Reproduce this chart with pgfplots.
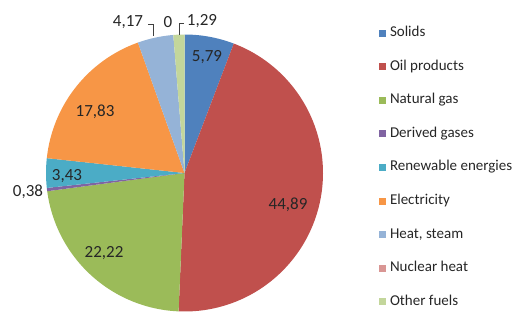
\documentclass[border=0pt]{standalone}
\usepackage{fontspec}
\setmainfont{Carlito}
\usepackage{pgfplots}
\pgfplotsset{compat=1.18}
\definecolor{cSolids}{HTML}{4F81BD}
\definecolor{cOil}{HTML}{C0504D}
\definecolor{cGas}{HTML}{9BBB59}
\definecolor{cDerived}{HTML}{8064A2}
\definecolor{cRenew}{HTML}{4BACC6}
\definecolor{cElec}{HTML}{F79646}
\definecolor{cHeat}{HTML}{95B3D7}
\definecolor{cNuclear}{HTML}{D99694}
\definecolor{cOther}{HTML}{C3D69B}
\definecolor{ctext}{HTML}{262626}
\begin{document}
\begin{tikzpicture}[lab/.style={text=ctext, font=\fontsize{17bp}{20bp}\selectfont, inner sep=0pt}]
\begin{axis}[
  x=1bp, y=1bp, xmin=0, xmax=525, ymin=0, ymax=311, y dir=reverse,
  hide axis, clip=false,
  legend cell align=left,
  legend style={at={(axis cs:379,26.5)}, anchor=north west, draw=none, fill=none,
    inner sep=0pt, outer sep=0pt, row sep=20.6bp, column sep=4bp,
    font=\fontsize{15bp}{18bp}\selectfont, text=ctext,
    nodes={inner sep=0pt, text height=10bp, text depth=3bp}},
  legend image code/.code={\fill[#1] (0bp,-3.5bp) rectangle (7bp,3.5bp);},
]
\path (axis cs:0,0) rectangle (axis cs:525,311);
% slices: domain = cumulative percentage start:end (values 5.79, 44.89, 22.22, 0.38, 3.43, 17.83, 4.17, 0, 1.29)
\addplot[fill=cSolids, draw=none, domain=0:5.79, samples=20, variable=\t]
  ({184.5+138.5*sin(3.6*\t)},{173-138.5*cos(3.6*\t)}) -- (axis cs:184.5,173) -- cycle;
\addlegendentry{Solids}
\addplot[fill=cOil, draw=none, domain=5.79:50.68, samples=120, variable=\t]
  ({184.5+138.5*sin(3.6*\t)},{173-138.5*cos(3.6*\t)}) -- (axis cs:184.5,173) -- cycle;
\addlegendentry{Oil products}
\addplot[fill=cGas, draw=none, domain=50.68:72.90, samples=60, variable=\t]
  ({184.5+138.5*sin(3.6*\t)},{173-138.5*cos(3.6*\t)}) -- (axis cs:184.5,173) -- cycle;
\addlegendentry{Natural gas}
\addplot[fill=cDerived, draw=none, domain=72.90:73.28, samples=5, variable=\t]
  ({184.5+138.5*sin(3.6*\t)},{173-138.5*cos(3.6*\t)}) -- (axis cs:184.5,173) -- cycle;
\addlegendentry{Derived gases}
\addplot[fill=cRenew, draw=none, domain=73.28:76.71, samples=12, variable=\t]
  ({184.5+138.5*sin(3.6*\t)},{173-138.5*cos(3.6*\t)}) -- (axis cs:184.5,173) -- cycle;
\addlegendentry{Renewable energies}
\addplot[fill=cElec, draw=none, domain=76.71:94.54, samples=50, variable=\t]
  ({184.5+138.5*sin(3.6*\t)},{173-138.5*cos(3.6*\t)}) -- (axis cs:184.5,173) -- cycle;
\addlegendentry{Electricity}
\addplot[fill=cHeat, draw=none, domain=94.54:98.71, samples=14, variable=\t]
  ({184.5+138.5*sin(3.6*\t)},{173-138.5*cos(3.6*\t)}) -- (axis cs:184.5,173) -- cycle;
\addlegendentry{Heat, steam}
\addlegendimage{fill=cNuclear, draw=none}
\addlegendentry{Nuclear heat}
\addplot[fill=cOther, draw=none, domain=98.71:100, samples=6, variable=\t]
  ({184.5+138.5*sin(3.6*\t)},{173-138.5*cos(3.6*\t)}) -- (axis cs:184.5,173) -- cycle;
\addlegendentry{Other fuels}
% data labels
\node[lab] at (axis cs:207,57) {5,79};
\node[lab] at (axis cs:288,205) {44,89};
\node[lab] at (axis cs:104,253) {22,22};
\node[lab] at (axis cs:67,176) {3,43};
\node[lab] at (axis cs:28,192) {0,38};
\node[lab] at (axis cs:95,112) {17,83};
\node[lab] at (axis cs:128,22) {4,17};
\node[lab] at (axis cs:168,22) {0};
\node[lab] at (axis cs:202,21) {1,29};
\draw[black!75, line width=0.8bp] (axis cs:148,24) -- (axis cs:153,24) -- (axis cs:153,36);
\draw[black!75, line width=0.8bp] (axis cs:184,23) -- (axis cs:179,23) -- (axis cs:179,35);
\end{axis}
\end{tikzpicture}
\end{document}
